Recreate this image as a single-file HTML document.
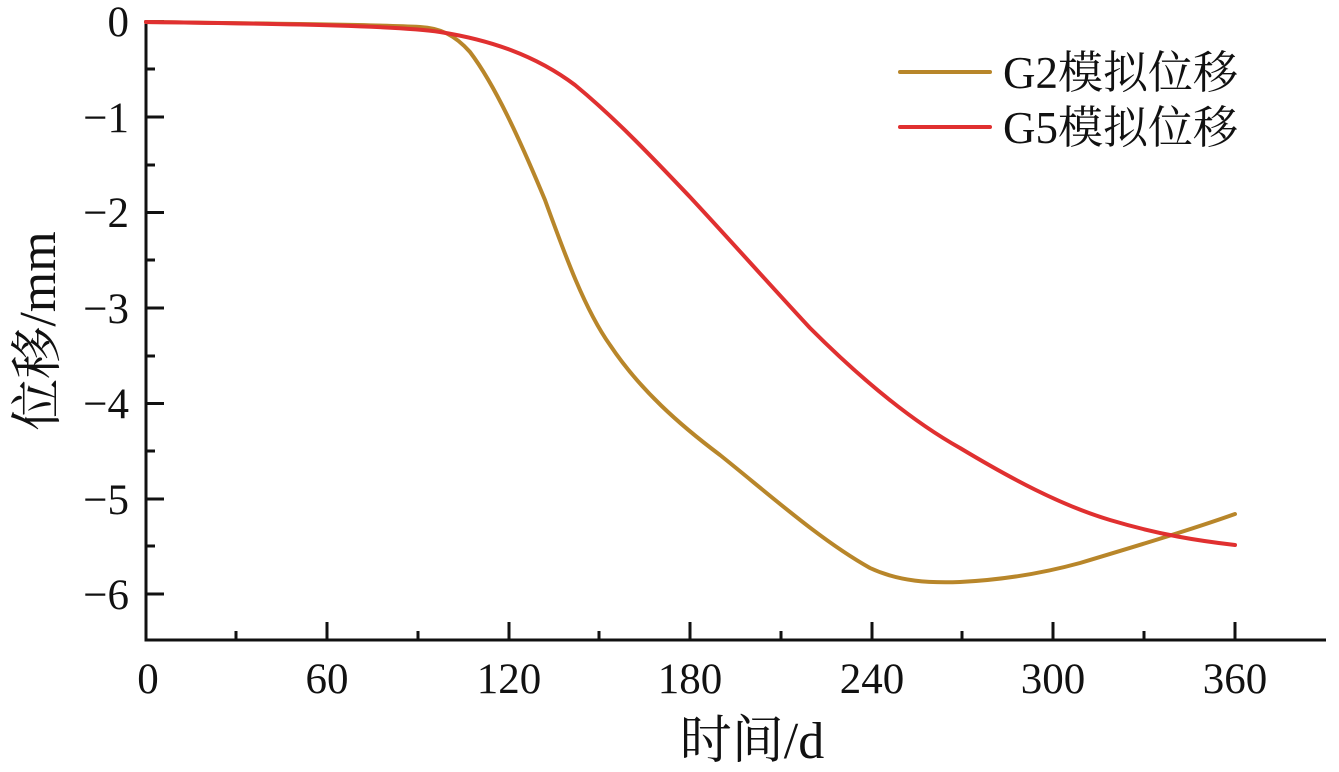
<!DOCTYPE html>
<html><head><meta charset="utf-8"><style>body{margin:0;background:#fff}svg{display:block}</style></head><body>
<svg width="1339" height="772" xmlns="http://www.w3.org/2000/svg" font-family="Liberation Serif, Noto Serif CJK SC, serif">
<g stroke="#111" stroke-width="3" fill="none">
<line x1="146" y1="20" x2="146" y2="641"/>
<line x1="144.5" y1="640" x2="1326" y2="640"/>
<line x1="146" y1="21.5" x2="164" y2="21.5"/>
<line x1="146" y1="117" x2="164" y2="117"/>
<line x1="146" y1="212.5" x2="164" y2="212.5"/>
<line x1="146" y1="308" x2="164" y2="308"/>
<line x1="146" y1="403.5" x2="164" y2="403.5"/>
<line x1="146" y1="499" x2="164" y2="499"/>
<line x1="146" y1="594" x2="164" y2="594"/>
<line x1="146" y1="69" x2="155" y2="69"/>
<line x1="146" y1="165" x2="155" y2="165"/>
<line x1="146" y1="260" x2="155" y2="260"/>
<line x1="146" y1="356" x2="155" y2="356"/>
<line x1="146" y1="451" x2="155" y2="451"/>
<line x1="146" y1="546" x2="155" y2="546"/>
<line x1="327" y1="640" x2="327" y2="622"/>
<line x1="509" y1="640" x2="509" y2="622"/>
<line x1="690" y1="640" x2="690" y2="622"/>
<line x1="872" y1="640" x2="872" y2="622"/>
<line x1="1053" y1="640" x2="1053" y2="622"/>
<line x1="1235" y1="640" x2="1235" y2="622"/>
<line x1="236" y1="640" x2="236" y2="631"/>
<line x1="418" y1="640" x2="418" y2="631"/>
<line x1="599" y1="640" x2="599" y2="631"/>
<line x1="781" y1="640" x2="781" y2="631"/>
<line x1="962" y1="640" x2="962" y2="631"/>
<line x1="1144" y1="640" x2="1144" y2="631"/>
</g>
<g font-size="43" fill="#111" text-anchor="end">
<text x="129" y="36">0</text>
<text x="129" y="132">−1</text>
<text x="129" y="227">−2</text>
<text x="129" y="323">−3</text>
<text x="129" y="418">−4</text>
<text x="129" y="514">−5</text>
<text x="129" y="609">−6</text>
</g>
<g font-size="43" fill="#111" text-anchor="middle">
<text x="148" y="693">0</text>
<text x="327" y="693">60</text>
<text x="509" y="693">120</text>
<text x="690" y="693">180</text>
<text x="872" y="693">240</text>
<text x="1053" y="693">300</text>
<text x="1235" y="693">360</text>
<text x="752" y="758" font-size="52">时间/d</text>
<text transform="translate(55,331) rotate(-90)" font-size="52">位移/mm</text>
</g>
<g fill="none" stroke-width="4" stroke-linejoin="round" stroke-linecap="round">
<path stroke="#b8862a" d="M146,22 C300,24 380,25 420,27 C440,28 455,35 470,52 C495,85 520,140 545,200 C565,255 585,310 610,345 C640,390 680,425 720,455 C770,495 820,540 870,568 C900,582 930,583 960,582 C1000,580 1040,574 1080,563 C1130,548 1190,530 1235,514"/>
<path stroke="#e03030" d="M146,22 C300,24 400,26 440,32 C490,40 535,55 575,85 C615,118 650,155 690,197 C730,240 770,285 810,328 C860,378 910,420 960,448 C1010,478 1060,505 1110,520 C1160,535 1200,541 1235,545"/>
<line x1="900" y1="72" x2="990" y2="72" stroke="#b8862a"/>
<line x1="900" y1="127" x2="990" y2="127" stroke="#e03030"/>
</g>
<g font-size="45" fill="#111">
<text x="1003" y="88">G2模拟位移</text>
<text x="1003" y="143">G5模拟位移</text>
</g>
</svg>
</body></html>
